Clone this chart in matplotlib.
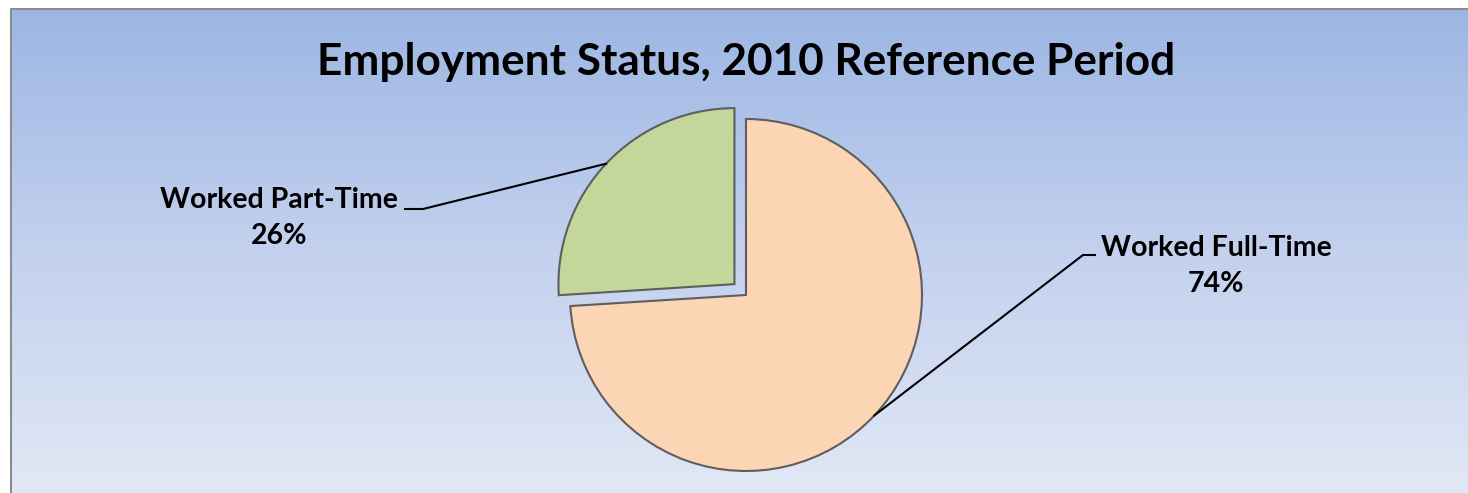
import numpy as np
import matplotlib.pyplot as plt
from matplotlib.colors import LinearSegmentedColormap

# ----------------------
# Data
# ----------------------
labels = ['Worked Part-Time', 'Worked Full-Time']
shares = [26, 74]
colors = ['#C4D79B', '#FCD5B5']
explode = [0.09, 0.0]   # fraction of the radius

title = 'Employment Status, 2010 Reference Period'

plt.rcParams['font.family'] = ['Lato', 'DejaVu Sans']

W, H = 1468, 493
fig = plt.figure(figsize=(W / 100, H / 100), dpi=100)
fig.patch.set_facecolor('white')

# axes in pixel units, y up
ax = fig.add_axes([0, 0, 1, 1])

# ----------------------
# Gradient background + border
# ----------------------
grad_cmap = LinearSegmentedColormap.from_list('bg', ['#E1E8F5', '#C3D1EE', '#9CB6E3'])
grad = np.linspace(0, 1, 256).reshape(-1, 1)
ax.imshow(grad, cmap=grad_cmap, aspect='auto', origin='lower',
          extent=[11, W, 0, H - 9], zorder=0)
ax.plot([10.5, 10.5, W], [0, H - 8.5, H - 8.5], color='#8C8C8C', lw=1.5, zorder=1)

# ----------------------
# Pie
# ----------------------
cx, cy, r = 746, 198, 176
wedges, _ = ax.pie(shares, colors=colors, explode=[e * r for e in explode],
                   startangle=90, center=(cx, cy), radius=r, frame=True,
                   wedgeprops=dict(edgecolor='#5E5E5E', linewidth=1.5))
ax.set_xlim(0, W)
ax.set_ylim(0, H)
ax.set_aspect('equal')
ax.axis('off')
for w in wedges:
    w.set_zorder(2)

# ----------------------
# Labels with leader lines
# ----------------------
label_pos = [(279, 275), (1216, 227)]      # text block centre (x, y)
elbow = [(405, 423), (1095, 1083)]          # horizontal stub start/end x
elbow_y = [284, 238]

for i, w in enumerate(wedges):
    mid = np.deg2rad((w.theta1 + w.theta2) / 2)
    wx, wy = w.center
    ex = wx + w.r * np.cos(mid)
    ey = wy + w.r * np.sin(mid)
    x0, x1 = elbow[i]
    ax.plot([x0, x1, ex], [elbow_y[i], elbow_y[i], ey], color='black', lw=1.5, zorder=3)
    ax.text(label_pos[i][0], label_pos[i][1], f'{labels[i]}\n{shares[i]}%',
            ha='center', va='center', multialignment='center',
            fontsize=20.5, fontweight='bold', linespacing=1.52, zorder=4)

ax.text(746, H - 62, title, ha='center', va='center',
        fontsize=31.8, fontweight='bold', zorder=4)

fig.savefig('out.png', dpi=100)
